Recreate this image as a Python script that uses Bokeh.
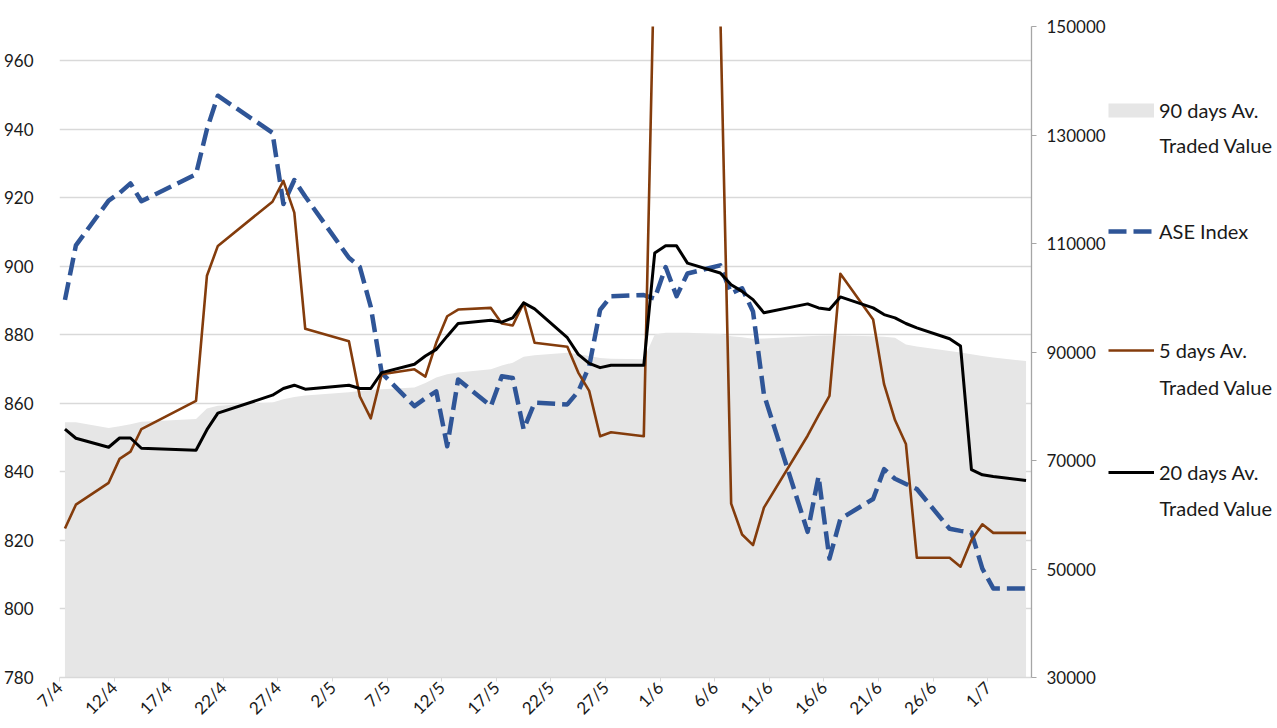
from math import pi
import pandas as pd
from bokeh.plotting import figure
from bokeh.layouts import row
from bokeh.models import (Range1d, LinearAxis, FixedTicker, SingleIntervalTicker,
                          NumeralTickFormatter, Legend, LegendItem, Label, ColumnDataSource)
from bokeh.embed import file_html
from bokeh.resources import INLINE

# ---------------- data ----------------
dates = ["2022-04-07", "2022-04-08", "2022-04-11", "2022-04-12", "2022-04-13", "2022-04-14",
         "2022-04-19", "2022-04-20", "2022-04-21", "2022-04-26", "2022-04-27", "2022-04-28",
         "2022-04-29", "2022-05-03", "2022-05-04", "2022-05-05", "2022-05-06", "2022-05-09",
         "2022-05-10", "2022-05-11", "2022-05-12", "2022-05-13", "2022-05-16", "2022-05-17",
         "2022-05-18", "2022-05-19", "2022-05-20", "2022-05-23", "2022-05-24", "2022-05-25",
         "2022-05-26", "2022-05-27", "2022-05-30", "2022-05-31", "2022-06-01", "2022-06-02",
         "2022-06-03", "2022-06-06", "2022-06-07", "2022-06-08", "2022-06-09", "2022-06-10",
         "2022-06-14", "2022-06-15", "2022-06-16", "2022-06-17", "2022-06-20", "2022-06-21",
         "2022-06-22", "2022-06-23", "2022-06-24", "2022-06-27", "2022-06-28", "2022-06-29",
         "2022-06-30", "2022-07-01", "2022-07-04"]

ase_index = [890.2, 906.1, 919.2, 921.4, 924.2, 919.0, 926.9, 940.0, 949.8, 939.0, 918.2, 925.2,
             920.4, 902.5, 899.8, 888.2, 868.9, 859.2, 861.5, 863.5, 847.5, 867.0, 859.2, 867.9,
             867.4, 852.4, 860.2, 859.7, 863.5, 870.8, 887.3, 891.3, 891.6, 890.6, 899.8, 891.3,
             897.9, 900.3, 892.1, 893.6, 886.8, 862.6, 822.5, 838.7, 814.7, 826.3, 832.1, 840.8,
             838.0, 836.5, 835.0, 823.4, 822.8, 822.3, 811.8, 806.0, 806.0]

tv_5d = [57450, 61855, 65890, 70300, 71640, 75800, 81000, 104060, 109560, 117700, 121550, 115680,
         94280, 92000, 81800, 77760, 85890, 86810, 85470, 91730, 96590, 97820, 98130, 95250,
         94890, 99050, 91710, 90980, 86200, 82830, 74460, 75200, 74460, 166000, 163000, 160000,
         157000, 153000, 62040, 56350, 54390, 61300, 74570, 78300, 81910, 104430, 95990, 84060,
         77460, 73050, 52080, 52080, 50420, 55300, 58240, 56660, 56660]

tv_20d = [75800, 74100, 72440, 74150, 74150, 72260, 71890, 75680, 78740, 82040, 83270, 83880,
          83140, 83880, 83270, 83270, 86200, 87730, 89250, 90480, 92920, 95250, 95860, 95490,
          96300, 99050, 97950, 92630, 89560, 87910, 87120, 87550, 87550, 108230, 109570, 109570,
          106390, 104560, 102410, 101180, 99660, 97220, 98870, 98130, 97820, 100150, 98130, 96900,
          96300, 95250, 94460, 92450, 91090, 68330, 67360, 67050, 66320]

tv_90d = [77030, 77030, 75990, 76300, 76700, 77140, 77640, 79600, 80080, 80700, 81310, 81700,
          82000, 82600, 82830, 83000, 83140, 83450, 84300, 85300, 85900, 86200, 86810, 87500,
          88040, 89140, 89400, 89880, 89570, 89250, 88900, 88770, 88650, 93230, 93540, 93540,
          93540, 93300, 92920, 92700, 92450, 92500, 92920, 93000, 93050, 93050, 92920, 92800,
          92630, 91400, 91000, 90170, 89900, 89600, 89250, 89000, 88330]

tick_labels = ["7/4", "12/4", "17/4", "22/4", "27/4", "2/5", "7/5", "12/5", "17/5", "22/5",
               "27/5", "1/6", "6/6", "11/6", "16/6", "21/6", "26/6", "1/7"]

series_names = ["90 days Av.", "ASE Index", "5 days Av.", "20 days Av."]
second_line = "Traded Value"

right_ticks = [30000, 50000, 70000, 90000, 110000, 130000, 150000]

# ---------------- styling ----------------
FONT = "Lato"
BLUE = "#2F5597"
BROWN = "#843C0C"
BLACK = "#000000"
GREY = "#E6E6E6"
GRID = "#D9D9D9"
TEXT = "#1a1a1a"
AX_FS = "17px"
LEG_FS = "20px"

d = pd.to_datetime(pd.Series(dates))
xs = ((d - d.iloc[0]).dt.days + 0.5).tolist()   # points sit in the middle of their day
tick_pos = [5 * i for i in range(len(tick_labels))]

src = ColumnDataSource(dict(x=xs, ase=ase_index, tv5=tv_5d, tv20=tv_20d, tv90=tv_90d))

MAIN_W = 1108
p = figure(width=MAIN_W, height=728, output_backend="svg", toolbar_location=None,
           x_range=Range1d(0, 89), y_range=Range1d(780, 970),
           min_border_left=58, min_border_right=MAIN_W - 1033, min_border_top=26,
           min_border_bottom=48)
p.outline_line_color = None
p.background_fill_color = "white"
p.border_fill_color = "white"
p.extra_y_ranges = {"tv": Range1d(30000, 150000)}

# left axis (ASE)
left_ticker = SingleIntervalTicker(interval=20, num_minor_ticks=0)
ya = p.yaxis[0]
ya.ticker = left_ticker
ya.axis_line_color = None
ya.major_tick_line_color = None
ya.minor_tick_line_color = None
ya.major_label_standoff = 20
ya.major_label_text_font = FONT
ya.major_label_text_font_size = AX_FS
ya.major_label_text_color = TEXT

p.ygrid[0].ticker = left_ticker
p.ygrid[0].grid_line_color = GRID
p.ygrid[0].grid_line_width = 1.3
p.xgrid.visible = False

# bottom axis (dates)
xa = p.xaxis[0]
xa.ticker = FixedTicker(ticks=tick_pos)
xa.major_label_overrides = {pos: lab for pos, lab in zip(tick_pos, tick_labels)}
xa.major_label_orientation = pi / 4
xa.axis_line_color = GRID
xa.axis_line_width = 1.3
xa.major_tick_line_color = GRID
xa.major_tick_out = 4
xa.major_tick_in = 0
xa.minor_tick_line_color = None
xa.major_label_standoff = 3
xa.major_label_text_font = FONT
xa.major_label_text_font_size = AX_FS
xa.major_label_text_color = TEXT

# right axis (traded value)
ra = LinearAxis(y_range_name="tv", ticker=FixedTicker(ticks=right_ticks),
                formatter=NumeralTickFormatter(format="0"))
ra.axis_line_color = "#A6A6A6"
ra.axis_line_width = 1.3
ra.major_tick_line_color = "#A6A6A6"
ra.major_tick_out = 5
ra.major_tick_in = 0
ra.minor_tick_line_color = None
ra.major_label_standoff = 10
ra.major_label_text_font = FONT
ra.major_label_text_font_size = AX_FS
ra.major_label_text_color = TEXT
p.add_layout(ra, "right")

# ---------------- glyphs ----------------
p.varea(x="x", y1=30000, y2="tv90", source=src, y_range_name="tv",
        fill_color=GREY, fill_alpha=1.0)
p.line("x", "ase", source=src, line_color=BLUE, line_width=4.5,
       line_dash="18 7", line_join="round")
p.line("x", "tv5", source=src, y_range_name="tv", line_color=BROWN,
       line_width=2.6, line_join="round")
p.line("x", "tv20", source=src, y_range_name="tv", line_color=BLACK,
       line_width=3, line_join="round")

# ---------------- legend panel ----------------
LEG_W = 1277 - MAIN_W
lp = figure(width=LEG_W, height=728, output_backend="svg", toolbar_location=None,
            x_range=Range1d(0, 1), y_range=Range1d(0, 1), min_border=0,
            x_axis_location=None, y_axis_location=None)
lp.outline_line_color = None
lp.grid.visible = False
lp.background_fill_color = "white"
lp.border_fill_color = "white"

nan = float("nan")
sw_src = ColumnDataSource(dict(x=[nan, nan], y=[nan, nan]))   # legend swatches only
sw_area = lp.line("x", "y", source=sw_src, line_color=GREY, line_width=14)
sw_ase = lp.line("x", "y", source=sw_src, line_color=BLUE, line_width=4.5, line_dash="18 7")
sw_5 = lp.line("x", "y", source=sw_src, line_color=BROWN, line_width=2.6)
sw_20 = lp.line("x", "y", source=sw_src, line_color=BLACK, line_width=3)

FRAME_BOTTOM = 680.0   # frames of the row are aligned: bottom edge at page y = 680
ITEM_H = 26
centers = [112.5, 234.0, 353.0, 475.0]
for name, rend, cy in zip(series_names, [sw_area, sw_ase, sw_5, sw_20], centers):
    lg = Legend(items=[LegendItem(label=name, renderers=[rend])],
                location=(0, FRAME_BOTTOM - (cy + ITEM_H / 2)),
                padding=0, margin=0, spacing=0,
                glyph_width=46, glyph_height=ITEM_H, label_height=ITEM_H,
                label_standoff=5,
                label_text_font=FONT, label_text_font_size=LEG_FS,
                label_text_color=TEXT,
                border_line_color=None, background_fill_alpha=0)
    lp.add_layout(lg)

for cy in [147.0, 389.0, 510.0]:
    lp.add_layout(Label(x=51, y=FRAME_BOTTOM - cy, x_units="screen", y_units="screen",
                        text=second_line, text_baseline="middle", text_align="left",
                        text_font=FONT, text_font_size=LEG_FS, text_color=TEXT))

layout = row(p, lp, spacing=0)
open("out.html", "w").write(file_html(layout, INLINE))
